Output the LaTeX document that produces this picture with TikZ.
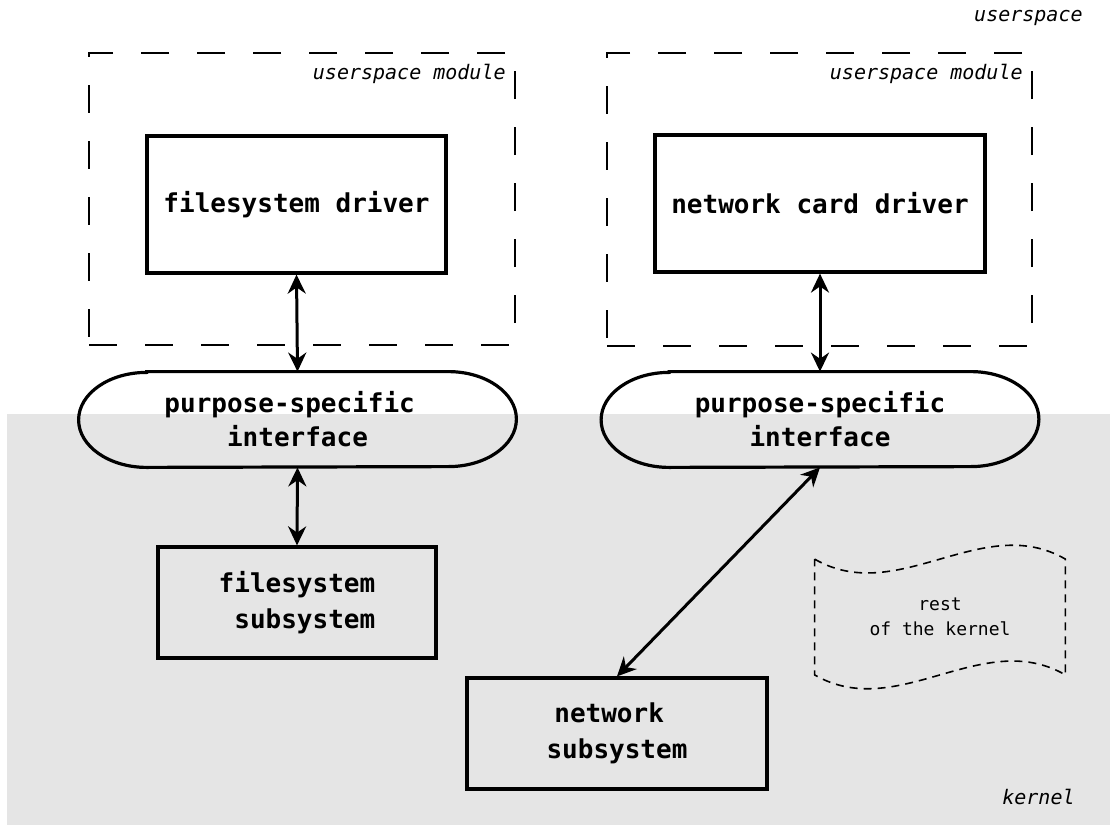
\documentclass[tikz,border=0pt]{standalone}
\usepackage{fontspec}
\setmonofont{DejaVu Sans Mono}[
    BoldFont={DejaVu Sans Mono Bold},
    ItalicFont={DejaVu Sans Mono Oblique},
    BoldItalicFont={DejaVu Sans Mono Bold Oblique}]
\usetikzlibrary{arrows.meta}
\definecolor{kernelgray}{RGB}{229,229,229}

\begin{document}
\begin{tikzpicture}[
            x=0.5pt,
            y=-0.5pt,
            box/.style={draw, line width=1.6pt, inner sep=0pt, align=center,
                font=\ttfamily\bfseries\fontsize{13}{18}\selectfont},
            iface/.style={inner sep=0pt, minimum width=218.5pt, minimum height=47.5pt, align=center,
                font=\ttfamily\bfseries\fontsize{13}{17}\selectfont},
            modbox/.style={draw, line width=1pt, dash pattern=on 14pt off 14pt, inner sep=0pt},
            tag/.style={inner sep=0pt, font=\ttfamily\itshape\fontsize{10}{12}\selectfont},
            link/.style={line width=1.5pt, {Stealth[length=9.5pt,width=9pt]}-{Stealth[length=9.5pt,width=9pt]}}
        ]
        \useasboundingbox (0,0) rectangle (1110,825);
        \fill[kernelgray] (7,414) rectangle (1110,825);

        \node[tag, anchor=east] (uslbl) at (1083,18) {userspace};
        \node[tag, anchor=east] (klbl) at (1075,797) {kernel};

        \node[modbox, minimum width=213pt, minimum height=146pt] (fsmod) at (302,199) {};
        \node[modbox, minimum width=212.5pt, minimum height=146.5pt] (netmod) at (819.5,199.5) {};
        \node[tag, anchor=east] (fsmodlbl) at ([xshift=-5pt, yshift=-11pt]fsmod.north east) {userspace module};
        \node[tag, anchor=east] (netmodlbl) at ([xshift=-5pt, yshift=-11pt]netmod.north east) {userspace module};

        \node[box, minimum width=149.5pt, minimum height=68.5pt] (fsdrv) at (296.5,204.5) {filesystem driver};
        \node[box, minimum width=165pt, minimum height=68.5pt] (netdrv) at (820,203.5) {network card driver};

        \node[iface] (fsif) at (297.5,419.5) {purpose-specific\phantom{x}\\interface};
        \node[iface] (netif) at (820,419.5) {purpose-specific\\interface};
        \foreach \n in {fsif, netif}
            \draw[line width=1.6pt] ([xshift=34pt]\n.north west) -- ([xshift=-34pt]\n.north east)
                arc[start angle=90, end angle=-90, x radius=34pt, y radius=23.75pt]
                -- ([xshift=34pt]\n.south west)
                arc[start angle=270, end angle=90, x radius=34pt, y radius=23.75pt] -- cycle;

        \node[box, minimum width=139pt, minimum height=55.5pt] (fssub) at (297,602.5) {filesystem\\\phantom{x}subsystem};
        \node[box, minimum width=150pt, minimum height=55.5pt] (netsub) at (617,733.5) {network\phantom{x}\\subsystem};

        \node[inner sep=0pt, minimum width=125pt, minimum height=57.5pt, align=center,
            font=\ttfamily\fontsize{9}{12.5}\selectfont] (rest) at (940,617) {rest\\of the kernel};
        \draw[line width=0.8pt, dash pattern=on 4pt off 3pt] (rest.north west)
            .. controls +(83,48) and +(-83,-48) .. (rest.north east) -- (rest.south east)
            .. controls +(-83,-48) and +(83,48) .. (rest.south west) -- cycle;

        \draw[link] (fsdrv.south) -- (fsif.north);
        \draw[link] (netdrv.south) -- (netif.north);
        \draw[link] (fsif.south) -- (fssub.north);
        \draw[link] (netif.south) -- (netsub.north);
    \end{tikzpicture}
\end{document}
